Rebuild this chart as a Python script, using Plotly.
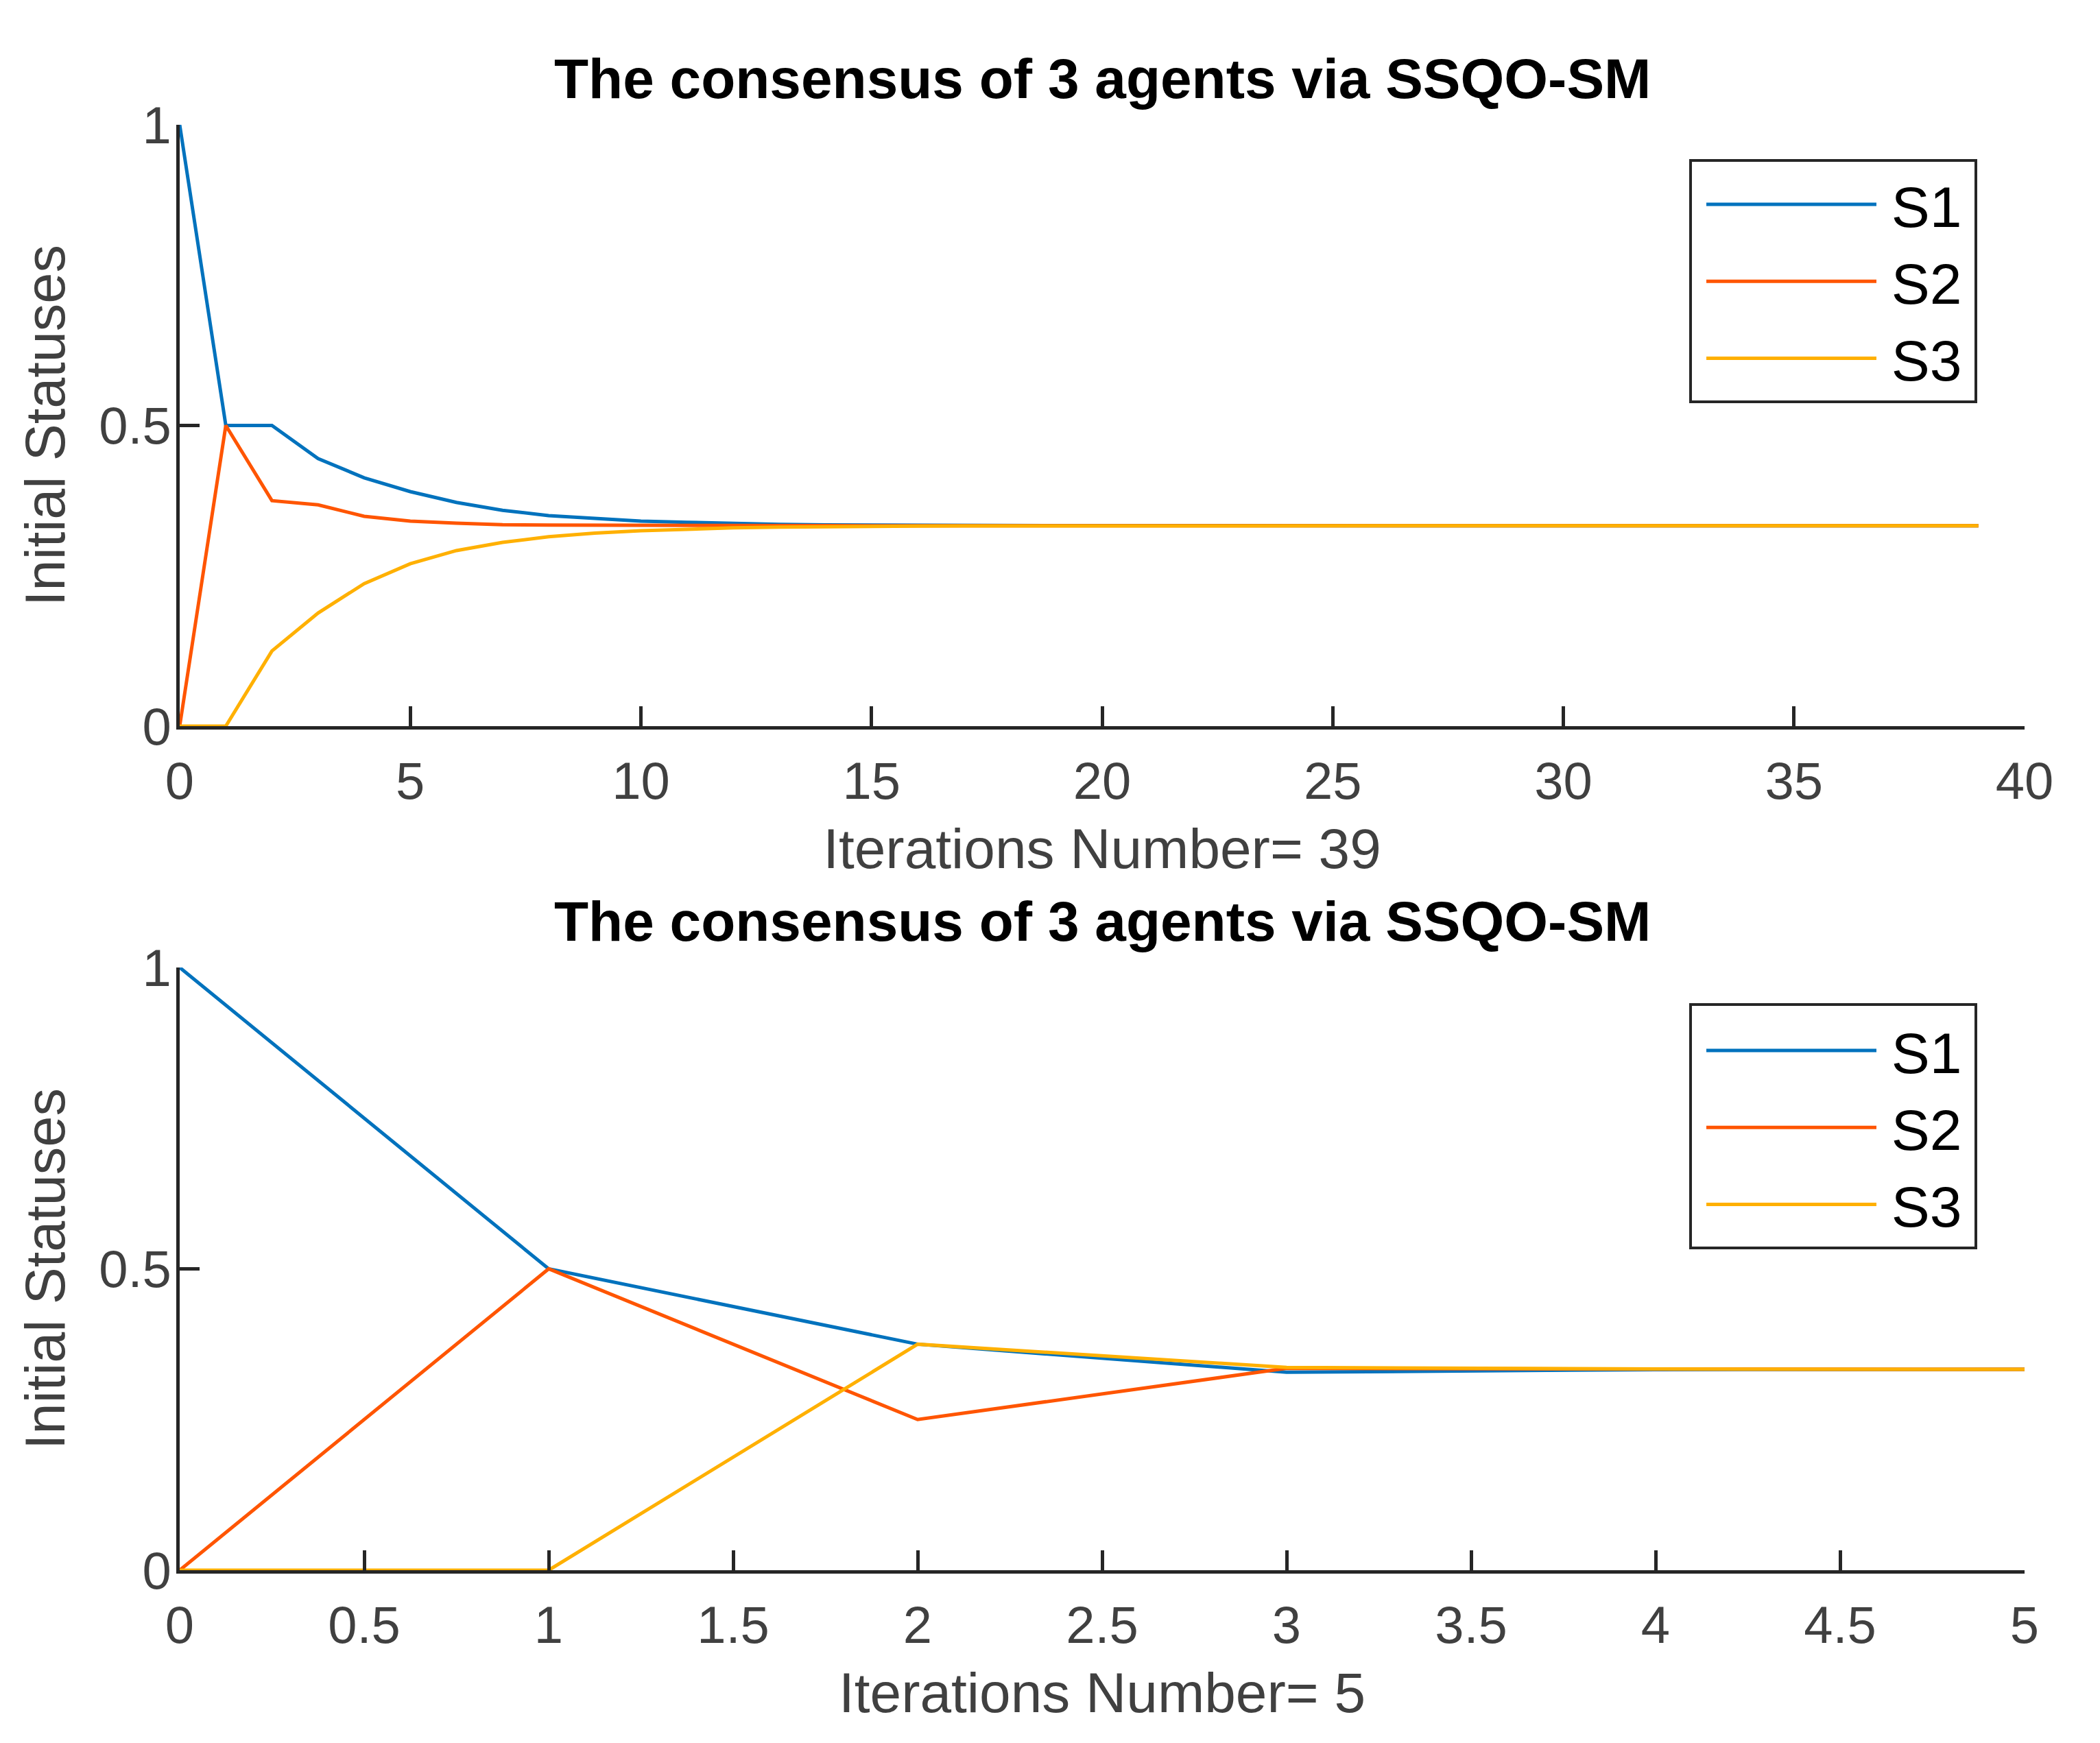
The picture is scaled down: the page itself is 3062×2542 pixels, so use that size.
import plotly.graph_objects as go

# iterations shown in each panel
iters_long = list(range(40))
iters_short = [0, 1, 2, 3, 4, 5]

# panel 1: 39 iterations
s1_long = [1.0, 0.5, 0.5, 0.445, 0.413, 0.390, 0.372, 0.359, 0.350, 0.3448,
           0.341, 0.339, 0.3368, 0.3355, 0.3347, 0.3342, 0.3339, 0.3337, 0.3336, 0.3335,
           0.3334, 0.3334, 0.3334, 0.3333, 0.3333, 0.3333, 0.3333, 0.3333, 0.3333, 0.3333,
           0.3333, 0.3333, 0.3333, 0.3333, 0.3333, 0.3333, 0.3333, 0.3333, 0.3333, 0.3333]
s2_long = [0.0, 0.5, 0.375, 0.368, 0.349, 0.341, 0.3376, 0.335, 0.3344, 0.3340,
           0.3337, 0.3336, 0.3335, 0.3334, 0.3334, 0.3333, 0.3333, 0.3333, 0.3333, 0.3333,
           0.3333, 0.3333, 0.3333, 0.3333, 0.3333, 0.3333, 0.3333, 0.3333, 0.3333, 0.3333,
           0.3333, 0.3333, 0.3333, 0.3333, 0.3333, 0.3333, 0.3333, 0.3333, 0.3333, 0.3333]
s3_long = [0.0, 0.0, 0.125, 0.188, 0.237, 0.270, 0.292, 0.3056, 0.315, 0.321,
           0.325, 0.3276, 0.3297, 0.3311, 0.3319, 0.3324, 0.3327, 0.3329, 0.3330, 0.3331,
           0.3332, 0.3332, 0.3333, 0.3333, 0.3333, 0.3333, 0.3333, 0.3333, 0.3333, 0.3333,
           0.3333, 0.3333, 0.3333, 0.3333, 0.3333, 0.3333, 0.3333, 0.3333, 0.3333, 0.3333]

# panel 2: 5 iterations
s1_short = [1.0, 0.5, 0.375, 0.3285, 0.3328, 0.3333]
s2_short = [0.0, 0.5, 0.25, 0.3350, 0.3336, 0.3333]
s3_short = [0.0, 0.0, 0.375, 0.3365, 0.3338, 0.3333]

names = ["S1", "S2", "S3"]
colors = ["#0072BD", "#FF5500", "#FFB000"]
title_text = "The consensus of 3 agents via SSQO-SM"
ylabel = "Initial Statuses"
xlabel_long = "Iterations Number= 39"
xlabel_short = "Iterations Number= 5"
xticks_long = [0, 5, 10, 15, 20, 25, 30, 35, 40]
xticks_short = [0, 0.5, 1, 1.5, 2, 2.5, 3, 3.5, 4, 4.5, 5]
yticks = [0, 0.5, 1]
yticklabels = ["0", "0.5", "1"]

W, H = 3062, 2542
OFF = 8  # page body margin
FONT = "Liberation Sans, Arial, sans-serif"
AX = "#262626"
TXT = "#404040"


def px_x(v):
    return (v - OFF) / W


def px_y(v):
    return 1 - (v - OFF) / H


fig = go.Figure()
for name, col, ys in zip(names, colors, [s1_long, s2_long, s3_long]):
    fig.add_trace(go.Scatter(x=iters_long, y=ys, mode="lines", name="\u2009" + name,
                             line=dict(color=col, width=5),
                             xaxis="x", yaxis="y", legend="legend"))
for name, col, ys in zip(names, colors, [s1_short, s2_short, s3_short]):
    fig.add_trace(go.Scatter(x=iters_short, y=ys, mode="lines", name="\u2009" + name,
                             line=dict(color=col, width=5),
                             xaxis="x2", yaxis="y2", legend="legend2"))

xdom = [px_x(262), px_x(2952)]
ydom_top = [px_y(1059), px_y(182)]
ydom_bot = [px_y(2290), px_y(1411)]


def xaxis(ticks, label, anchor):
    return dict(domain=xdom, range=[ticks[0], ticks[-1]], tickvals=ticks,
                ticks="inside", ticklen=29, tickwidth=4.5, tickcolor=AX,
                showline=True, linewidth=5, linecolor=AX, mirror=False,
                showgrid=False, zeroline=False, anchor=anchor,
                tickfont=dict(family=FONT, size=76, color=TXT),
                ticklabelstandoff=10,
                title=dict(text=label, font=dict(family=FONT, size=82, color=TXT), standoff=30))


def yaxis(dom, anchor):
    return dict(domain=dom, range=[0, 1], tickvals=yticks, ticktext=yticklabels,
                ticks="inside", ticklen=29, tickwidth=4.5, tickcolor=AX,
                showline=True, linewidth=5, linecolor=AX,
                showgrid=False, zeroline=False, anchor=anchor,
                tickfont=dict(family=FONT, size=76, color=TXT),
                ticklabelstandoff=-8,
                title=dict(text=ylabel, font=dict(family=FONT, size=81, color=TXT), standoff=24))


def legend(ytop_px):
    return dict(x=px_x(2483), y=px_y(ytop_px), xanchor="left", yanchor="top",
                bgcolor="rgba(0,0,0,0)", borderwidth=0,
                font=dict(family=FONT, size=84, color="black"),
                itemwidth=248, tracegroupgap=0)


def legend_frame(top_px, bottom_px):
    return dict(type="rect", xref="paper", yref="paper",
                x0=px_x(2465), x1=px_x(2881), y0=px_y(bottom_px), y1=px_y(top_px),
                line=dict(color=AX, width=4), fillcolor="white", layer="above")


def title(ytop):
    return dict(text="<b>" + title_text + "</b>", xref="paper", yref="paper",
                x=(xdom[0] + xdom[1]) / 2, y=ytop, xanchor="center", yanchor="bottom",
                yshift=20, showarrow=False, font=dict(family=FONT, size=82, color="black"))


fig.update_layout(
    width=W, height=H,
    margin=dict(l=0, r=0, t=0, b=0, autoexpand=False),
    paper_bgcolor="white", plot_bgcolor="white",
    xaxis=xaxis(xticks_long, xlabel_long, "y"),
    yaxis=yaxis(ydom_top, "x"),
    xaxis2=xaxis(xticks_short, xlabel_short, "y2"),
    yaxis2=yaxis(ydom_bot, "x2"),
    legend=legend(237),
    legend2=legend(1471),
    shapes=[legend_frame(234, 586), legend_frame(1465, 1820)],
    annotations=[title(ydom_top[1]), title(ydom_bot[1])],
)

fig.write_html("out.html")
